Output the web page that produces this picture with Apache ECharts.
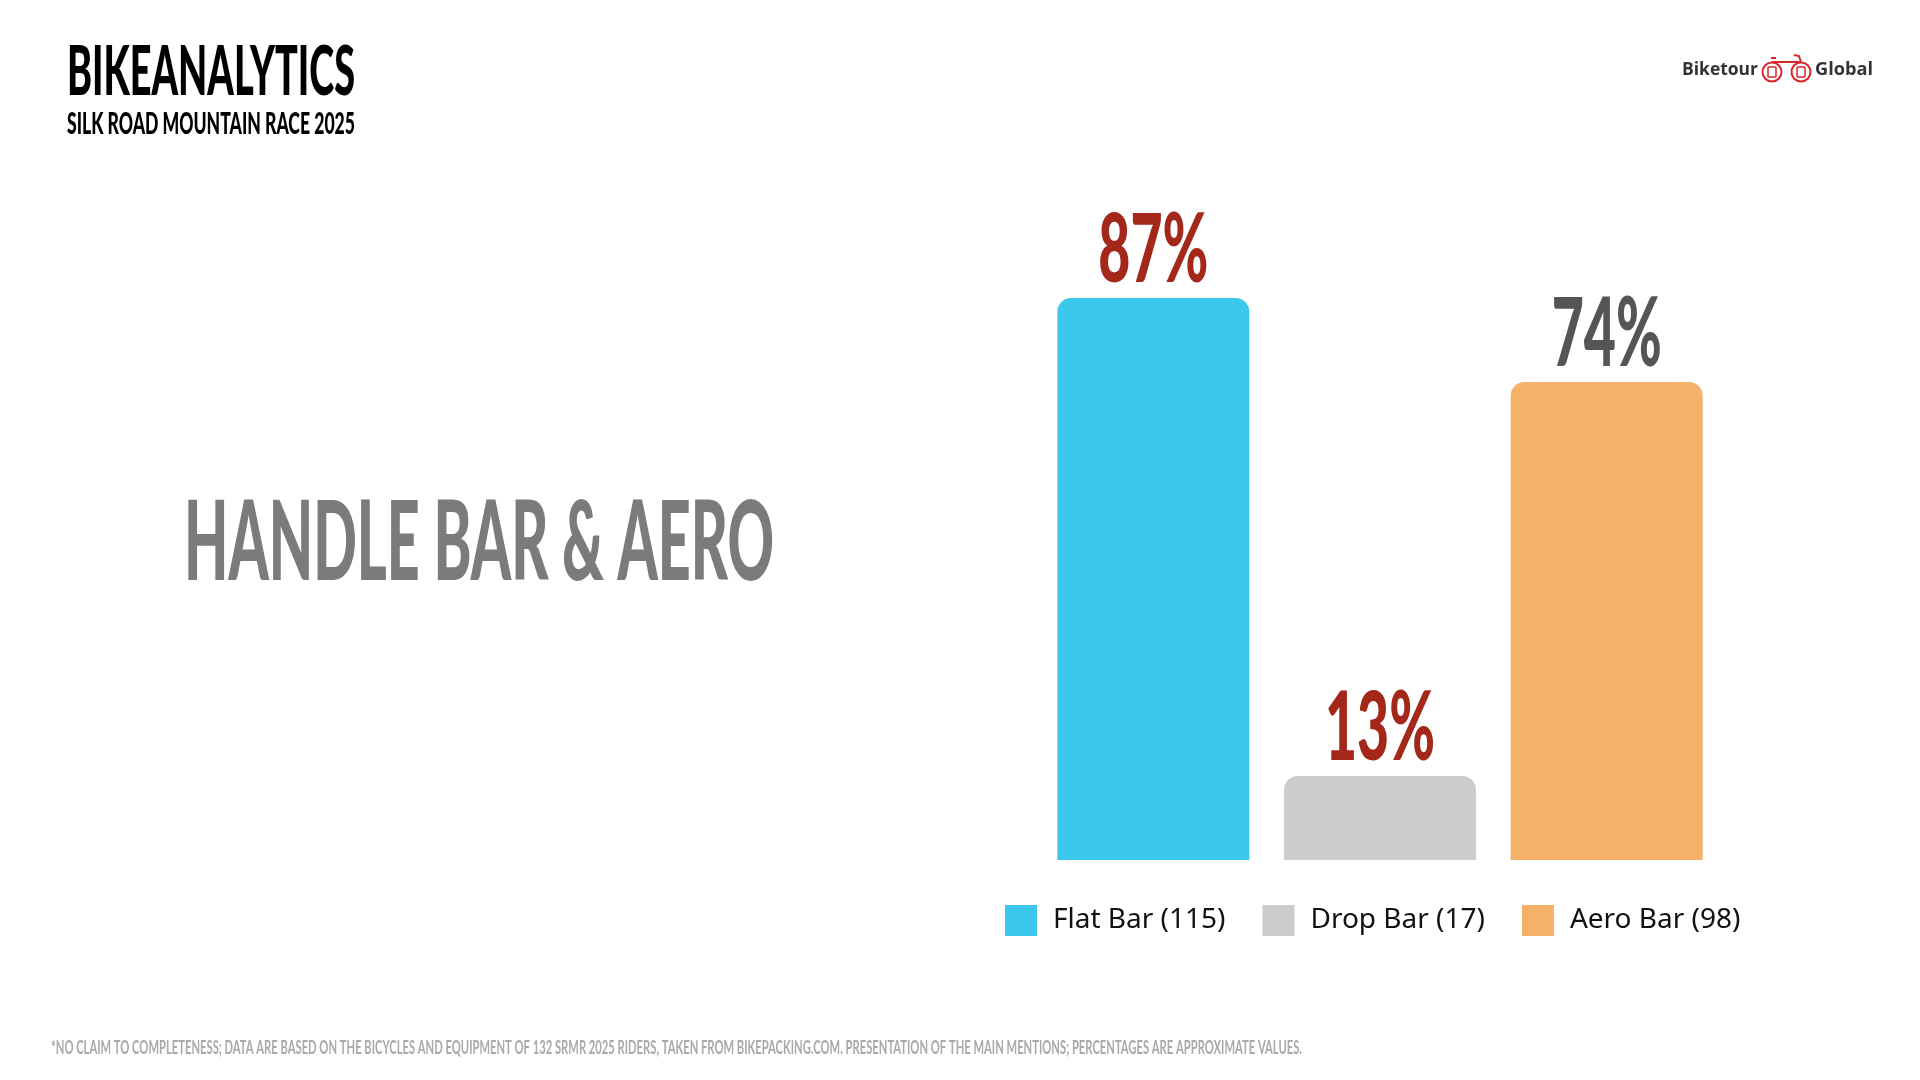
<!DOCTYPE html>
<html><head><meta charset="utf-8">
<script src="https://cdn.jsdelivr.net/npm/echarts@6/dist/echarts.min.js"></script>
<style>html,body{margin:0;padding:0;background:#fff}#c{width:1920px;height:1080px}</style>
</head><body><div id="c"></div>
<script>
const categories = ['Flat Bar', 'Drop Bar', 'Aero Bar'];
const counts = [115, 17, 98];
const percents = [87, 13, 74];
const barColors = ['#3CC8EA', '#CCCCCC', '#F5B06A'];
const labelColors = ['#A3281A', '#A3281A', '#555555'];
const titleText = 'BIKEANALYTICS';
const subtitleText = 'SILK ROAD MOUNTAIN RACE 2025';
const topicText = 'HANDLE BAR & AERO';
const footnoteText = '*NO CLAIM TO COMPLETENESS; DATA ARE BASED ON THE BICYCLES AND EQUIPMENT OF 132 SRMR 2025 RIDERS, TAKEN FROM BIKEPACKING.COM. PRESENTATION OF THE MAIN MENTIONS; PERCENTAGES ARE APPROXIMATE VALUES.';

const legendNames = categories.map((c, i) => c + ' (' + counts[i] + ')');

const mctx = document.createElement('canvas').getContext('2d');
function measure(text, font) { mctx.font = font; return mctx.measureText(text).width; }

function condText(text, weight, capH, fill, left, capTop, targetW, family) {
  const size = Math.round(capH / 0.72);
  const font = weight + ' ' + size + 'px ' + (family || 'Lato');
  const s = targetW / measure(text, font);
  return {
    type: 'text', x: left, y: capTop + capH / 2, scaleX: s, silent: true,
    style: { text: text, font: font, fill: fill, align: 'left', verticalAlign: 'middle' }
  };
}

const labelCap = 69;
const labelFont = '900 ' + Math.round(labelCap / 0.72) + 'px Lato';
const labelScale = 110 / measure('87%', labelFont);
const labelGap = 12;

const chart = echarts.init(document.getElementById('c'), null, { renderer: 'canvas' });

const barSeries = categories.map((c, i) => ({
  type: 'bar',
  name: legendNames[i],
  barWidth: 192,
  barGap: '-100%',
  itemStyle: { color: barColors[i], borderRadius: [14, 14, 0, 0] },
  data: categories.map((cc, j) => (j === i ? percents[j] : '-')),
  silent: true
}));

const red = '#D9262B';
const logoFont = 'bold 17px "Open Sans"';
const graphic = [
  condText(titleText, 900, 49, '#000', 67, 49, 288),
  condText(subtitleText, 900, 22, '#000', 67, 113, 288),
  condText(topicText, 900, 80, '#7B7B7B', 184, 504, 590),
  condText(footnoteText, 700, 14, '#A9A9A9', 51, 1041, 1251),
  { type: 'text', x: 1682, y: 70, scaleX: 76 / measure('Biketour', logoFont), silent: true, style: { text: 'Biketour', font: logoFont, fill: '#333', align: 'left', verticalAlign: 'middle' } },
  { type: 'text', x: 1815, y: 70, scaleX: 58 / measure('Global', logoFont), silent: true, style: { text: 'Global', font: logoFont, fill: '#333', align: 'left', verticalAlign: 'middle' } },
  { type: 'circle', silent: true, shape: { cx: 1772, cy: 72, r: 9.5 }, style: { fill: 'none', stroke: red, lineWidth: 2 } },
  { type: 'circle', silent: true, shape: { cx: 1801, cy: 72, r: 9.5 }, style: { fill: 'none', stroke: red, lineWidth: 2 } },
  { type: 'rect', silent: true, shape: { x: 1768, y: 67, width: 8, height: 10, r: 1 }, style: { fill: 'none', stroke: red, lineWidth: 1.5 } },
  { type: 'rect', silent: true, shape: { x: 1797, y: 67, width: 8, height: 10, r: 1 }, style: { fill: 'none', stroke: red, lineWidth: 1.5 } },
  { type: 'polyline', silent: true, shape: { points: [[1772, 62], [1786, 62], [1801, 62], [1799, 56], [1794, 55]] }, style: { fill: 'none', stroke: red, lineWidth: 2 } },
  { type: 'polyline', silent: true, shape: { points: [[1776, 58], [1771, 58]] }, style: { fill: 'none', stroke: red, lineWidth: 2 } }
];

chart.setOption({
  backgroundColor: '#fff',
  animation: false,
  grid: { left: 1040, width: 680, top: 214, bottom: 220 },
  xAxis: { type: 'category', data: categories, show: false },
  yAxis: { type: 'value', min: 0, max: 100, show: false },
  legend: {
    left: 1005, top: 905, padding: 0, itemWidth: 32, itemHeight: 31, itemGap: 37, icon: 'rect',
    selectedMode: false, data: legendNames,
    textStyle: { fontFamily: 'Noto Sans', fontSize: 28, color: '#111', padding: [0, 0, 0, 11] }
  },
  graphic: graphic,
  series: barSeries.concat([{
    type: 'custom',
    silent: true,
    z: 10,
    data: percents.map((v, i) => [i, v]),
    encode: { x: 0, y: 1 },
    renderItem: function (params, api) {
      const i = api.value(0), v = api.value(1);
      const p = api.coord([i, v]);
      return {
        type: 'text', x: p[0], y: p[1] - labelGap - labelCap / 2, scaleX: labelScale,
        style: { text: v + '%', font: labelFont, fill: labelColors[i], align: 'center', verticalAlign: 'middle' }
      };
    }
  }])
});
</script></body></html>
